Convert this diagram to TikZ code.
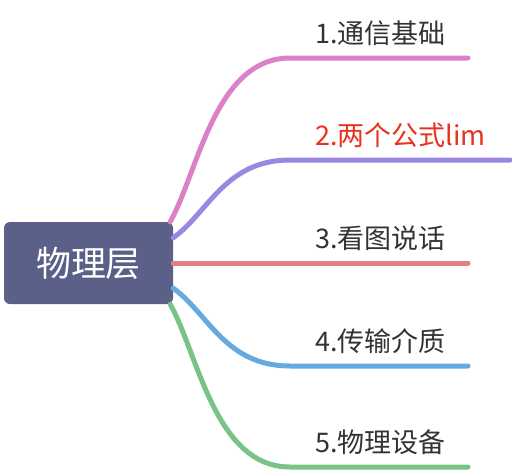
\documentclass[tikz,border=0pt]{standalone}
\usepackage{fontspec}
\newfontfamily\cjk{Noto Sans CJK SC}
\usetikzlibrary{positioning}
\definecolor{rootfill}{RGB}{90,96,135}
\definecolor{brpink}{RGB}{220,128,200}
\definecolor{brpurple}{RGB}{155,135,225}
\definecolor{brred}{RGB}{225,128,128}
\definecolor{brblue}{RGB}{100,170,225}
\definecolor{brgreen}{RGB}{120,195,135}
\definecolor{leaftext}{RGB}{51,51,51}
\definecolor{leafred}{RGB}{232,50,30}

\begin{document}
\begin{tikzpicture}[
  x=1pt, y=-1pt,
  rootbox/.style = {rectangle, rounded corners=6pt, fill=rootfill, text=white, minimum width=169pt, minimum height=82pt, font=\cjk\fontsize{35}{40}\selectfont},
  leaf/.style = {anchor=base west, inner sep=0pt, text=leaftext, font=\cjk\fontsize{27}{32}\selectfont},
  branch/.style = {line width=5pt, line cap=round}
  ]
\useasboundingbox (0,0) rectangle (512,472);

\node[rootbox] (root) at (88.5,263) {物理层};

% branch ends
\coordinate (s1) at (290,58);   \coordinate (t1) at (468,58);
\coordinate (s2) at (290,160);  \coordinate (t2) at (510,160);
\coordinate (s3) at (290,263);  \coordinate (t3) at (468,263);
\coordinate (s4) at (290,366);  \coordinate (t4) at (468,366);
\coordinate (s5) at (290,467);  \coordinate (t5) at (468,467);

\node[leaf] (l1) at (315,43) {1.通信基础};
\node[leaf, text=leafred] (l2) at (315,145) {2.两个公式lim};
\node[leaf] (l3) at (315,248) {3.看图说话};
\node[leaf] (l4) at (315,351) {4.传输介质};
\node[leaf] (l5) at (315,452) {5.物理设备};

\draw[branch, brpink] ([xshift=-3pt]root.north east) .. controls +(28,-50) and +(-75,0) .. (s1) -- (t1);
\draw[branch, brpurple] ([yshift=-16pt]root.north east) .. controls +(35,-25) and +(-65,0) .. (s2) -- (t2);
\draw[branch, brred] (root.east) -- (t3);
\draw[branch, brblue] ([yshift=16pt]root.south east) .. controls +(35,25) and +(-65,0) .. (s4) -- (t4);
\draw[branch, brgreen] ([xshift=-3pt]root.south east) .. controls +(28,50) and +(-75,0) .. (s5) -- (t5);

\end{tikzpicture}
\end{document}
